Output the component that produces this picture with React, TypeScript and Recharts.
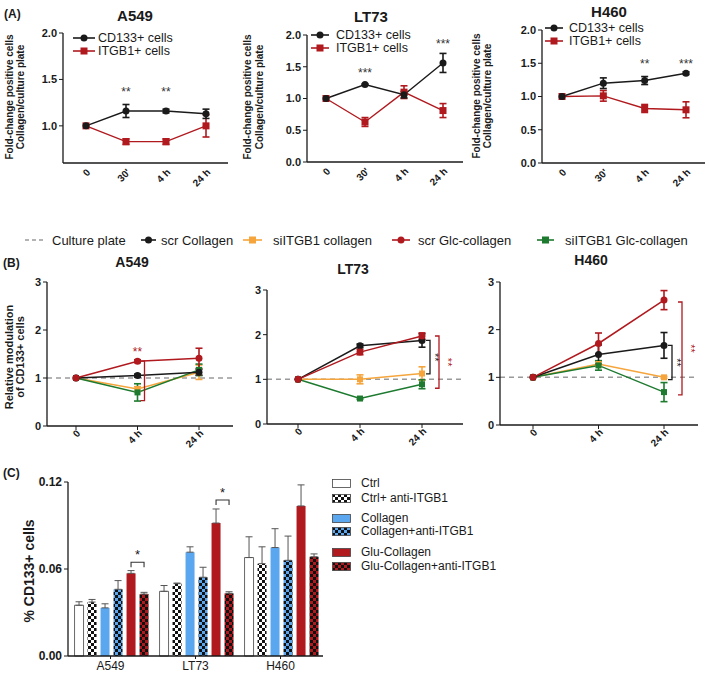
import React from 'react';
import {
  LineChart, Line, XAxis, YAxis, ErrorBar, ReferenceDot, ReferenceLine,
  BarChart, Bar, LabelList,
} from 'recharts';

const FONT = '"Liberation Sans", Arial, Helvetica, sans-serif';
const INK = '#1a1a1a';
const RED = '#b0191e';
const ORANGE = '#f5a53c';
const GREEN = '#1d7a2f';
const BLUE = '#5aa7f0';
const GREY = '#9a9a9a';

// ---- panel A: fold change collagen / culture plate
const timesA = ['0', "30'", '4 h', '24 h'];
const a549Cd133 = [1.0, 1.16, 1.16, 1.13];
const a549Cd133Err = [0, 0.07, 0.02, 0.05];
const a549Itgb1 = [1.0, 0.83, 0.83, 1.0];
const a549Itgb1Err = [0, 0.03, 0.03, 0.12];
const a549Sig = ['', '**', '**', ''];
const a549SigLevel = [0, 1.37, 1.37, 0];

const lt73Cd133 = [1.0, 1.22, 1.06, 1.56];
const lt73Cd133Err = [0, 0.01, 0.05, 0.15];
const lt73Itgb1 = [1.0, 0.63, 1.1, 0.81];
const lt73Itgb1Err = [0, 0.07, 0.1, 0.11];
const lt73Sig = ['', '***', '', '***'];
const lt73SigLevel = [0, 1.4, 0, 1.87];

const h460Cd133 = [1.0, 1.2, 1.24, 1.35];
const h460Cd133Err = [0, 0.08, 0.06, 0.02];
const h460Itgb1 = [1.0, 1.01, 0.82, 0.8];
const h460Itgb1Err = [0, 0.08, 0.06, 0.12];
const h460Sig = ['', '', '**', '***'];
const h460SigLevel = [0, 0, 1.5, 1.5];

// ---- panel B: relative modulation of CD133+ cells
const timesB = ['0', '4 h', '24 h'];
const a549ScrCol = [1, 1.05, 1.12];
const a549ScrColErr = [0, 0.03, 0.06];
const a549SiCol = [1, 0.77, 1.12];
const a549SiColErr = [0, 0.05, 0.15];
const a549ScrGlc = [1, 1.35, 1.41];
const a549ScrGlcErr = [0, 0.03, 0.21];
const a549SiGlc = [1, 0.7, 1.17];
const a549SiGlcErr = [0, 0.18, 0.12];
const a549BracketsB = [{ x: '4 h', top: 1.35, bottom: 0.53, kind: 'glc', label: '' }];
const a549StarsB = [{ x: '4 h', y: 1.55, label: '**', kind: 'glc' }];

const lt73ScrCol = [1, 1.75, 1.87];
const lt73ScrColErr = [0, 0.04, 0.15];
const lt73SiCol = [1, 1.0, 1.13];
const lt73SiColErr = [0, 0.1, 0.15];
const lt73ScrGlc = [1, 1.61, 1.97];
const lt73ScrGlcErr = [0, 0.06, 0.07];
const lt73SiGlc = [1, 0.57, 0.89];
const lt73SiGlcErr = [0, 0.02, 0.1];
const lt73BracketsB = [
  { x: '24 h', top: 1.87, bottom: 1.12, kind: 'col', label: '**' },
  { x: '24 h', top: 1.97, bottom: 0.8, kind: 'glc', label: '**' },
];

const h460ScrCol = [1, 1.48, 1.67];
const h460ScrColErr = [0, 0.2, 0.27];
const h460SiCol = [1, 1.28, 1.0];
const h460SiColErr = [0, 0.05, 0.02];
const h460ScrGlc = [1, 1.71, 2.62];
const h460ScrGlcErr = [0, 0.22, 0.2];
const h460SiGlc = [1, 1.25, 0.69];
const h460SiGlcErr = [0, 0.1, 0.2];
const h460BracketsB = [
  { x: '24 h', top: 1.67, bottom: 0.95, kind: 'col', label: '**' },
  { x: '24 h', top: 2.58, bottom: 0.63, kind: 'glc', label: '**' },
];

// ---- panel C: % CD133+ cells
const cellLines = ['A549', 'LT73', 'H460'];
const ctrl = [0.035, 0.0446, 0.0679];
const ctrlErr = [0.0024, 0.004, 0.0143];
const ctrlAnti = [0.0372, 0.0499, 0.0637];
const ctrlAntiErr = [0.0018, 0.0004, 0.0116];
const collagen = [0.0332, 0.0716, 0.0748];
const collagenErr = [0.0028, 0.0037, 0.013];
const collagenAnti = [0.046, 0.0543, 0.066];
const collagenAntiErr = [0.006, 0.0069, 0.0167];
const glu = [0.057, 0.0917, 0.1035];
const gluErr = [0.0019, 0.0097, 0.0145];
const gluAnti = [0.0427, 0.0432, 0.0684];
const gluAntiErr = [0.0012, 0.0011, 0.002];
const sigC = ['*', '*', ''];
const sigCLevel = [0.0647, 0.1076, 0];

const yTicksA549A = [1.0, 1.5, 2.0];
const yTicksA = [0, 0.5, 1.0, 1.5, 2.0];
const yTicksB = [0, 1, 2, 3];
const yTicksC = [0, 0.06, 0.12];

type Box = { x0: number; x1: number; y0: number; y1: number };
const YW = 40;
const XH = 40;
const BAR_GAP = 4;

function frame(b: Box, extraR = 20) {
  return {
    style: { position: 'absolute' as const, left: b.x0 - YW, top: b.y0 - 10 },
    width: b.x1 - b.x0 + YW + extraR,
    height: b.y1 - b.y0 + 10 + XH,
    margin: { top: 10, right: extraR, bottom: 0, left: 0 },
  };
}

const axisLine = { stroke: INK, strokeWidth: 1.3 };

const circleDot = (color: string, r = 3.5) => (p: any) =>
  <circle key={p.index} cx={p.cx} cy={p.cy} r={r} fill={color} stroke="none" />;
const squareDot = (color: string, s = 3.5) => (p: any) =>
  <rect key={p.index} x={p.cx - s} y={p.cy - s} width={2 * s} height={2 * s} fill={color} />;

const SlantTick = (p: any) => {
  const ax = p.x + 5;
  const ay = p.y + 2;
  return (
    <text x={ax} y={ay} transform={`rotate(-45 ${ax} ${ay})`} textAnchor="end"
      fontSize={p.fs || 10} fontWeight="bold" fill={INK} fontFamily={FONT}>
      {p.payload.value}
    </text>
  );
};

function Txt({ x, y, children, size = 13, bold = false, color = INK, rot = 0, anchor = 'middle' }: any) {
  const tx = anchor === 'middle' ? '-50%' : '0';
  return (
    <div style={{
      position: 'absolute', left: x, top: y, transform: `translate(${tx}, -50%) rotate(${rot}deg)`,
      whiteSpace: 'nowrap', fontSize: size, fontWeight: bold ? 'bold' : 'normal', color,
      fontFamily: FONT, lineHeight: 1,
    }}>{children}</div>
  );
}

function Swatch({ x, y, w, color, marker, dashed }: any) {
  return (
    <svg style={{ position: 'absolute', left: x, top: y - 6 }} width={w} height={12}>
      <line x1={0} y1={6} x2={w} y2={6} stroke={color} strokeWidth={1.6} strokeDasharray={dashed ? '4 3' : undefined} />
      {marker === 'circle' && <circle cx={w / 2} cy={6} r={3.5} fill={color} />}
      {marker === 'square' && <rect x={w / 2 - 3.5} y={2.5} width={7} height={7} fill={color} />}
    </svg>
  );
}

function PanelA({ box, domain, ticks, cd, cdErr, it, itErr, sig, sigLevel, padL, padR }: any) {
  const data = timesA.map((t, i) => ({ t, cd: cd[i], cdErr: cdErr[i], it: it[i], itErr: itErr[i] }));
  const f = frame(box);
  return (
    <div style={f.style}>
      <LineChart width={f.width} height={f.height} data={data} margin={f.margin}>
        <XAxis dataKey="t" scale="point" padding={{ left: padL, right: padR }} height={XH} interval={0}
          tickLine={false} tickSize={6} axisLine={axisLine} tick={<SlantTick fs={10} />} />
        <YAxis type="number" width={YW} domain={domain} ticks={ticks} interval={0}
          tickFormatter={(v: number) => v.toFixed(1)} axisLine={axisLine} tickLine={{ stroke: INK }} tickSize={4}
          tick={{ fill: INK, fontSize: 11, fontWeight: 'bold', fontFamily: FONT }} />
        <Line dataKey="it" stroke={RED} strokeWidth={1.4} dot={squareDot(RED)} isAnimationActive={false}>
          <ErrorBar dataKey="itErr" width={3.5} stroke={RED} strokeWidth={1.6} />
        </Line>
        <Line dataKey="cd" stroke={INK} strokeWidth={1.4} dot={circleDot(INK)} isAnimationActive={false}>
          <ErrorBar dataKey="cdErr" width={3.5} stroke={INK} strokeWidth={1.6} />
        </Line>
        {sig.map((s: string, i: number) => s ? (
          <ReferenceDot key={i} x={timesA[i]} y={sigLevel[i]} r={0} stroke="none" fill="none"
            label={{ value: s, position: 'center', fill: '#333', fontSize: 12, fontFamily: FONT }} />
        ) : null)}
      </LineChart>
    </div>
  );
}

function Bracket({ x1, y1, y2, dx, color, label, labelOff }: any) {
  const x = x1 + dx;
  const top = Math.min(y1, y2);
  const bot = Math.max(y1, y2);
  const mid = (top + bot) / 2;
  const lx = x + labelOff;
  return (
    <g>
      <path d={`M${x - 4},${top} H${x} V${bot} H${x - 4}`} fill="none" stroke={color} strokeWidth={1.3} />
      {label ? (
        <text x={lx} y={mid} transform={`rotate(90 ${lx} ${mid})`} textAnchor="middle"
          dominantBaseline="central" fill={color} fontSize={11} fontFamily={FONT}>{label}</text>
      ) : null}
    </g>
  );
}

function PanelB({ box, padL, padR, s, brackets, dx, stars }: any) {
  const data = timesB.map((t, i) => ({
    t,
    scrCol: s.scrCol[i], scrColErr: s.scrColErr[i],
    siCol: s.siCol[i], siColErr: s.siColErr[i],
    scrGlc: s.scrGlc[i], scrGlcErr: s.scrGlcErr[i],
    siGlc: s.siGlc[i], siGlcErr: s.siGlcErr[i],
  }));
  const f = frame(box, 25);
  const kindColor = (k: string) => (k === 'glc' ? RED : INK);
  return (
    <div style={f.style}>
      <LineChart width={f.width} height={f.height} data={data} margin={f.margin}>
        <XAxis dataKey="t" scale="point" padding={{ left: padL, right: padR }} height={XH} interval={0}
          tickLine={{ stroke: INK }} tickSize={4} axisLine={axisLine} tick={<SlantTick fs={10} />} />
        <YAxis type="number" width={YW} domain={[0, 3]} ticks={yTicksB} interval={0} axisLine={axisLine}
          tickLine={{ stroke: INK }} tickSize={4}
          tick={{ fill: INK, fontSize: 11, fontWeight: 'bold', fontFamily: FONT }} />
        <ReferenceLine y={1} stroke={GREY} strokeDasharray="5 4" strokeWidth={1.5} />
        <Line dataKey="siCol" stroke={ORANGE} strokeWidth={1.5} dot={squareDot(ORANGE, 3)} isAnimationActive={false}>
          <ErrorBar dataKey="siColErr" width={3.5} stroke={ORANGE} strokeWidth={1.6} />
        </Line>
        <Line dataKey="siGlc" stroke={GREEN} strokeWidth={1.5} dot={squareDot(GREEN, 3)} isAnimationActive={false}>
          <ErrorBar dataKey="siGlcErr" width={3.5} stroke={GREEN} strokeWidth={1.6} />
        </Line>
        <Line dataKey="scrCol" stroke={INK} strokeWidth={1.5} dot={circleDot(INK, 3.5)} isAnimationActive={false}>
          <ErrorBar dataKey="scrColErr" width={3.5} stroke={INK} strokeWidth={1.6} />
        </Line>
        <Line dataKey="scrGlc" stroke={RED} strokeWidth={1.5} dot={circleDot(RED, 3.5)} isAnimationActive={false}>
          <ErrorBar dataKey="scrGlcErr" width={3.5} stroke={RED} strokeWidth={1.6} />
        </Line>
        {brackets.map((b: any, i: number) => (
          <ReferenceLine key={`b${i}`} segment={[{ x: b.x, y: b.top }, { x: b.x, y: b.bottom }]} ifOverflow="visible"
            stroke={kindColor(b.kind)}
            shape={(p: any) => (
              <Bracket {...p} dx={dx[i]} color={kindColor(b.kind)} label={b.label}
                labelOff={b.kind === 'glc' ? 9 : 5} />
            )} />
        ))}
        {(stars || []).map((st: any, i: number) => (
          <ReferenceDot key={`s${i}`} x={st.x} y={st.y} r={0} stroke="none" fill="none"
            label={{ value: st.label, position: 'center', fill: kindColor(st.kind), fontSize: 12, fontFamily: FONT }} />
        ))}
      </LineChart>
    </div>
  );
}

function checker(id: string, a: string, b: string) {
  return (
    <pattern id={id} width={6} height={6} patternUnits="userSpaceOnUse">
      <rect width={6} height={6} fill={a} />
      <rect width={3} height={3} fill={b} />
      <rect x={3} y={3} width={3} height={3} fill={b} />
    </pattern>
  );
}

function SigC(p: any) {
  const vb = p.viewBox && p.viewBox.width != null ? p.viewBox : p;
  const { x, y, width, height } = vb;
  const i = p.index;
  if (!sigC[i] || !p.value) return null;
  const h = Math.abs(height);
  const bottom = y + h;
  const ly = bottom - sigCLevel[i] * (h / p.value);
  const xa = x + width / 2;
  const xb = x + width * 1.5 + BAR_GAP;
  return (
    <g>
      <path d={`M${xa},${ly + 5} V${ly} H${xb} V${ly + 5}`} fill="none" stroke="#333" strokeWidth={1.1} />
      <text x={(xa + xb) / 2} y={ly - 3} textAnchor="middle" fontSize={13} fill={INK} fontFamily={FONT}>{sigC[i]}</text>
    </g>
  );
}

function PanelC({ box }: { box: Box }) {
  const data = cellLines.map((c, i) => ({
    c,
    ctrl: ctrl[i], ctrlErr: [0, ctrlErr[i]],
    ctrlAnti: ctrlAnti[i], ctrlAntiErr: [0, ctrlAntiErr[i]],
    collagen: collagen[i], collagenErr: [0, collagenErr[i]],
    collagenAnti: collagenAnti[i], collagenAntiErr: [0, collagenAntiErr[i]],
    glu: glu[i], gluErr: [0, gluErr[i]],
    gluAnti: gluAnti[i], gluAntiErr: [0, gluAntiErr[i]],
  }));
  const f = frame(box, 5);
  const eb = (k: string) => <ErrorBar dataKey={k} width={3.5} stroke="#555" strokeWidth={1} />;
  return (
    <div style={f.style}>
      <BarChart width={f.width} height={f.height} data={data} margin={f.margin} barCategoryGap="7.7%" barGap={BAR_GAP}>
        <XAxis dataKey="c" height={XH} tickLine={{ stroke: INK }} axisLine={axisLine} tickSize={3}
          tick={{ fill: INK, fontSize: 12, fontFamily: FONT }} />
        <YAxis type="number" width={YW} domain={[0, 0.12]} ticks={yTicksC} interval={0} axisLine={axisLine}
          tickLine={{ stroke: INK }} tickSize={4} tickFormatter={(v: number) => v.toFixed(2)}
          tick={{ fill: INK, fontSize: 12, fontWeight: 'bold', fontFamily: FONT }} />
        <Bar dataKey="ctrl" fill="#fff" stroke="#444" strokeWidth={0.8} isAnimationActive={false}>{eb('ctrlErr')}</Bar>
        <Bar dataKey="ctrlAnti" fill="url(#chkBW)" isAnimationActive={false}>{eb('ctrlAntiErr')}</Bar>
        <Bar dataKey="collagen" fill={BLUE} isAnimationActive={false}>{eb('collagenErr')}</Bar>
        <Bar dataKey="collagenAnti" fill="url(#chkBlue)" isAnimationActive={false}>{eb('collagenAntiErr')}</Bar>
        <Bar dataKey="glu" fill={RED} isAnimationActive={false}>
          {eb('gluErr')}
          <LabelList dataKey="glu" content={(p: any) => <SigC {...p} />} />
        </Bar>
        <Bar dataKey="gluAnti" fill="url(#chkRed)" isAnimationActive={false}>{eb('gluAntiErr')}</Bar>
      </BarChart>
    </div>
  );
}

function LegendC({ x, y }: { x: number; y: number }) {
  const rows = [
    { label: 'Ctrl', fill: '#fff', dy: 0 },
    { label: 'Ctrl+ anti-ITGB1', fill: 'url(#chkBW)', dy: 15 },
    { label: 'Collagen', fill: BLUE, dy: 35 },
    { label: 'Collagen+anti-ITGB1', fill: 'url(#chkBlue)', dy: 48 },
    { label: 'Glu-Collagen', fill: RED, dy: 69 },
    { label: 'Glu-Collagen+anti-ITGB1', fill: 'url(#chkRed)', dy: 83 },
  ];
  return (
    <>
      {rows.map((r) => (
        <React.Fragment key={r.label}>
          <svg style={{ position: 'absolute', left: x, top: y + r.dy - 4 }} width={19} height={9}>
            <rect x={0.5} y={0.5} width={18} height={8} fill={r.fill} stroke="#444" strokeWidth={0.8} />
          </svg>
          <Txt x={x + 29} y={y + r.dy} size={12} anchor="start">{r.label}</Txt>
        </React.Fragment>
      ))}
    </>
  );
}

export default function App() {
  return (
    <div style={{ position: 'absolute', left: 0, top: 0, width: 709, height: 675, overflow: 'hidden', background: '#fff', fontFamily: FONT }}>
      <svg width={0} height={0} style={{ position: 'absolute' }}>
        <defs>
          {checker('chkBW', '#fff', '#111')}
          {checker('chkBlue', BLUE, '#111')}
          {checker('chkRed', RED, '#111')}
        </defs>
      </svg>

      {/* panel A */}
      <Txt x={4} y={14} size={12} bold anchor="start">(A)</Txt>
      <Txt x={135} y={15} size={15} bold>A549</Txt>
      <Txt x={371} y={16} size={15} bold>LT73</Txt>
      <Txt x={609} y={11} size={15} bold>H460</Txt>
      <Txt x={10} y={97} size={10} bold rot={-90}>Fold-change positive cells</Txt>
      <Txt x={21} y={97} size={10} bold rot={-90}>Collagen/culture plate</Txt>
      <Txt x={248} y={97} size={10} bold rot={-90}>Fold-change positive cells</Txt>
      <Txt x={260} y={97} size={10} bold rot={-90}>Collagen/culture plate</Txt>
      <Txt x={477} y={96} size={10} bold rot={-90}>Fold-change positive cells</Txt>
      <Txt x={488} y={96} size={10} bold rot={-90}>Collagen/culture plate</Txt>

      <PanelA box={{ x0: 63, x1: 228, y0: 33, y1: 163 }} domain={[0.6, 2]} ticks={yTicksA549A}
        cd={a549Cd133} cdErr={a549Cd133Err} it={a549Itgb1} itErr={a549Itgb1Err}
        sig={a549Sig} sigLevel={a549SigLevel} padL={23} padR={22} />
      <PanelA box={{ x0: 307, x1: 463, y0: 35, y1: 162 }} domain={[0, 2]} ticks={yTicksA}
        cd={lt73Cd133} cdErr={lt73Cd133Err} it={lt73Itgb1} itErr={lt73Itgb1Err}
        sig={lt73Sig} sigLevel={lt73SigLevel} padL={19} padR={20} />
      <PanelA box={{ x0: 542, x1: 705, y0: 30, y1: 163 }} domain={[0, 2]} ticks={yTicksA}
        cd={h460Cd133} cdErr={h460Cd133Err} it={h460Itgb1} itErr={h460Itgb1Err}
        sig={h460Sig} sigLevel={h460SigLevel} padL={20} padR={19} />

      <Swatch x={73} y={38} w={22} color={INK} marker="circle" />
      <Swatch x={73} y={51} w={22} color={RED} marker="square" />
      <Txt x={98} y={38} size={12.5} anchor="start">CD133+ cells</Txt>
      <Txt x={98} y={51} size={12.5} anchor="start">ITGB1+ cells</Txt>
      <Swatch x={311} y={35} w={18} color={INK} marker="circle" />
      <Swatch x={311} y={48} w={18} color={RED} marker="square" />
      <Txt x={336} y={35} size={12.5} anchor="start">CD133+ cells</Txt>
      <Txt x={336} y={48} size={12.5} anchor="start">ITGB1+ cells</Txt>
      <Swatch x={545} y={28} w={18} color={INK} marker="circle" />
      <Swatch x={545} y={41} w={18} color={RED} marker="square" />
      <Txt x={569} y={28} size={12.5} anchor="start">CD133+ cells</Txt>
      <Txt x={569} y={41} size={12.5} anchor="start">ITGB1+ cells</Txt>

      {/* panel B legend */}
      <Swatch x={25} y={240} w={21} color={GREY} dashed />
      <Txt x={52} y={240} size={13} anchor="start">Culture plate</Txt>
      <Swatch x={141} y={240} w={15} color={INK} marker="circle" />
      <Txt x={161} y={240} size={13} anchor="start">scr Collagen</Txt>
      <Swatch x={243} y={240} w={19} color={ORANGE} marker="square" />
      <Txt x={273} y={240} size={13} anchor="start">siITGB1 collagen</Txt>
      <Swatch x={392} y={240} w={18} color={RED} marker="circle" />
      <Txt x={418} y={240} size={13} anchor="start">scr Glc-collagen</Txt>
      <Swatch x={537} y={240} w={17} color={GREEN} marker="square" />
      <Txt x={565} y={240} size={13} anchor="start">siITGB1 Glc-collagen</Txt>

      {/* panel B */}
      <Txt x={3} y={263} size={12} bold anchor="start">(B)</Txt>
      <Txt x={132} y={262} size={14} bold>A549</Txt>
      <Txt x={353} y={269} size={14} bold>LT73</Txt>
      <Txt x={591} y={260} size={14} bold>H460</Txt>
      <Txt x={9} y={357} size={11} bold rot={-90}>Relative modulation</Txt>
      <Txt x={20} y={357} size={11} bold rot={-90}>of CD133+ cells</Txt>

      <PanelB box={{ x0: 47, x1: 233, y0: 282, y1: 426 }} padL={29} padR={34}
        s={{ scrCol: a549ScrCol, scrColErr: a549ScrColErr, siCol: a549SiCol, siColErr: a549SiColErr,
          scrGlc: a549ScrGlc, scrGlcErr: a549ScrGlcErr, siGlc: a549SiGlc, siGlcErr: a549SiGlcErr }}
        brackets={a549BracketsB} dx={[7]} stars={a549StarsB} />
      <PanelB box={{ x0: 267, x1: 463, y0: 290, y1: 424 }} padL={31} padR={41}
        s={{ scrCol: lt73ScrCol, scrColErr: lt73ScrColErr, siCol: lt73SiCol, siColErr: lt73SiColErr,
          scrGlc: lt73ScrGlc, scrGlcErr: lt73ScrGlcErr, siGlc: lt73SiGlc, siGlcErr: lt73SiGlcErr }}
        brackets={lt73BracketsB} dx={[8, 17]} />
      <PanelB box={{ x0: 500, x1: 698, y0: 282, y1: 425 }} padL={33} padR={34}
        s={{ scrCol: h460ScrCol, scrColErr: h460ScrColErr, siCol: h460SiCol, siColErr: h460SiColErr,
          scrGlc: h460ScrGlc, scrGlcErr: h460ScrGlcErr, siGlc: h460SiGlc, siGlcErr: h460SiGlcErr }}
        brackets={h460BracketsB} dx={[8, 18]} />

      {/* panel C */}
      <Txt x={3} y={473} size={12} bold anchor="start">(C)</Txt>
      <Txt x={29} y={571} size={14} bold rot={-90}>% CD133+ cells</Txt>
      <PanelC box={{ x0: 68, x1: 323, y0: 482, y1: 656 }} />
      <LegendC x={332} y={483} />
    </div>
  );
}
